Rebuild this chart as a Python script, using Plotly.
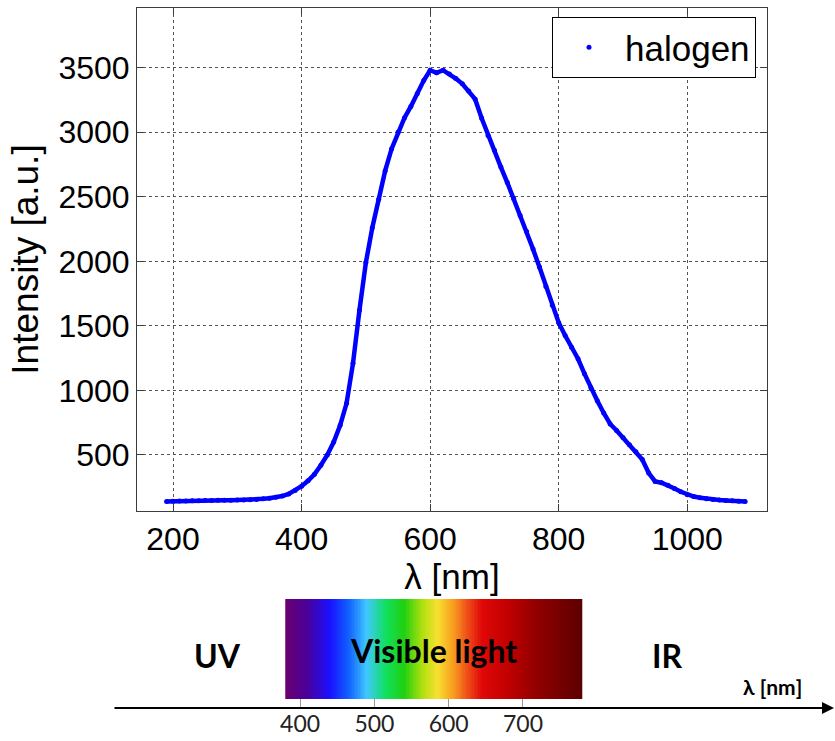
import plotly.graph_objects as go

# ---------------- data ----------------
wavelength_nm = [190, 200, 210, 220, 230, 240, 250, 260, 270, 280, 290, 300, 310, 320, 330, 340,
                 350, 360, 370, 380, 390, 400, 410, 420, 430, 440, 450, 460, 470, 480, 490, 500,
                 510, 520, 530, 540, 550, 560, 570, 580, 590, 600, 610, 620, 630, 640, 650, 660,
                 670, 680, 690, 700, 710, 720, 730, 740, 750, 760, 770, 780, 790, 800, 810, 820,
                 830, 840, 850, 860, 870, 880, 890, 900, 910, 920, 930, 940, 950, 960, 970, 980,
                 990, 1000, 1010, 1020, 1030, 1040, 1050, 1060, 1070, 1080, 1090]
intensity_au = [140, 142, 143, 144, 145, 146, 147, 148, 149, 150, 150, 151, 152, 154, 156, 160,
                165, 172, 182, 198, 225, 258, 300, 350, 420, 500, 600, 730, 900, 1210, 1620, 1990,
                2260, 2480, 2700, 2870, 3000, 3110, 3200, 3300, 3400, 3480, 3460, 3480, 3450, 3415, 3375, 3320,
                3256, 3110, 2975, 2860, 2730, 2610, 2485, 2355, 2231, 2095, 1955, 1805, 1660, 1525, 1425, 1335,
                1245, 1130, 1020, 920, 825, 740, 690, 635, 580, 525, 465, 360, 295, 285, 265, 240,
                215, 192, 178, 168, 160, 155, 151, 148, 145, 142, 140]
series_name = "halogen"

x_ticks = [200, 400, 600, 800, 1000]
y_ticks = [500, 1000, 1500, 2000, 2500, 3000, 3500]

band_ticks = [400, 500, 600, 700]
visible_range = [380, 780]
spectrum_nm = [380, 410, 440, 465, 490, 515, 540, 565, 585, 605, 625, 645, 680, 720, 780]
spectrum_rgb = ['#6a006e', '#4a009c', '#1a10ff', '#1060ff', '#40c8ff', '#10e060', '#20d010',
                '#b0e010', '#f8e030', '#f8a020', '#f05018', '#e00808', '#c00000', '#900000', '#5c0000']

# ---------------- figure ----------------
W, H = 835, 741
FONT = "Liberation Sans, Arial, sans-serif"
BFONT = "Lato, Open Sans, sans-serif"

fig = go.Figure()

fig.add_trace(go.Scatter(x=wavelength_nm, y=intensity_au, mode="lines",
                         line=dict(color="#0000ff", width=4.5), showlegend=False,
                         hoverinfo="skip"))
fig.add_trace(go.Scatter(x=wavelength_nm, y=intensity_au, mode="markers",
                         marker=dict(color="#0000ff", size=5, symbol="circle"),
                         name=series_name))

# spectrum bar
edges = list(range(visible_range[0], visible_range[1] + 1, 2))
centers = [(a + b) / 2 for a, b in zip(edges[:-1], edges[1:])]
cscale = [[(nm - visible_range[0]) / (visible_range[1] - visible_range[0]), c]
          for nm, c in zip(spectrum_nm, spectrum_rgb)]
fig.add_trace(go.Heatmap(x=edges, y=[0, 1], z=[centers], colorscale=cscale,
                         zmin=visible_range[0], zmax=visible_range[1], showscale=False,
                         xaxis="x2", yaxis="y2", hoverinfo="skip"))

def px_x(p):
    return p / W

def px_y(p):
    return 1 - p / H

axis_common = dict(showline=True, linecolor="#3c3c3c", linewidth=1, mirror="ticks",
                   ticks="inside", ticklen=7, tickcolor="#3c3c3c",
                   showgrid=True, gridcolor="#555555", griddash="dot", gridwidth=1,
                   zeroline=False, automargin=False,
                   tickfont=dict(family=FONT, size=32, color="black"))

fig.update_layout(
    width=W, height=H,
    margin=dict(l=0, r=0, t=0, b=0),
    paper_bgcolor="white", plot_bgcolor="white",
    xaxis=dict(domain=[px_x(137), px_x(767)], range=[144, 1124], tickvals=x_ticks,
               title=dict(text="λ [nm]", font=dict(family=FONT, size=35, color="black"), standoff=2),
               **axis_common),
    yaxis=dict(domain=[px_y(511), px_y(8)], range=[66, 3962], tickvals=y_ticks,
               title=dict(text="Intensity [a.u.]", font=dict(family=FONT, size=37, color="black"), standoff=8),
               **axis_common),
    xaxis2=dict(domain=[0, 1], range=[-4, 1120], anchor="free", position=px_y(708),
                tickvals=band_ticks, ticks="inside", ticklen=9, tickcolor="#999999",
                showline=False, showgrid=False, zeroline=False, automargin=False,
                tickfont=dict(family=BFONT, size=23, color="#222222")),
    yaxis2=dict(domain=[px_y(699), px_y(599)], range=[0, 1], anchor="x2",
                visible=False, automargin=False),
    legend=dict(x=px_x(756), y=px_y(17), xanchor="right", yanchor="top",
                bgcolor="white", bordercolor="black", borderwidth=1,
                font=dict(family=FONT, size=35, color="black"),
                itemsizing="trace", itemwidth=62),
    showlegend=True,
)

annos = [
    dict(text="UV", x=px_x(217), y=px_y(655), size=32),
    dict(text="Visible light", x=px_x(433), y=px_y(650), size=32),
    dict(text="IR", x=px_x(667), y=px_y(655), size=32),
    dict(text="λ [nm]", x=px_x(772), y=px_y(686), size=21),
]
for a in annos:
    fig.add_annotation(text="<b>%s</b>" % a["text"], x=a["x"], y=a["y"], xref="paper", yref="paper",
                       showarrow=False, xanchor="center", yanchor="middle",
                       font=dict(family=BFONT, size=a["size"], color="black"))

# axis arrow
fig.add_annotation(x=1.0, y=px_y(708), xref="paper", yref="paper", text="",
                   showarrow=True, ax=-(W - 113), ay=0, axref="pixel", ayref="pixel",
                   arrowhead=2, arrowsize=1.2, arrowwidth=2, arrowcolor="black")

fig.write_html("out.html")
